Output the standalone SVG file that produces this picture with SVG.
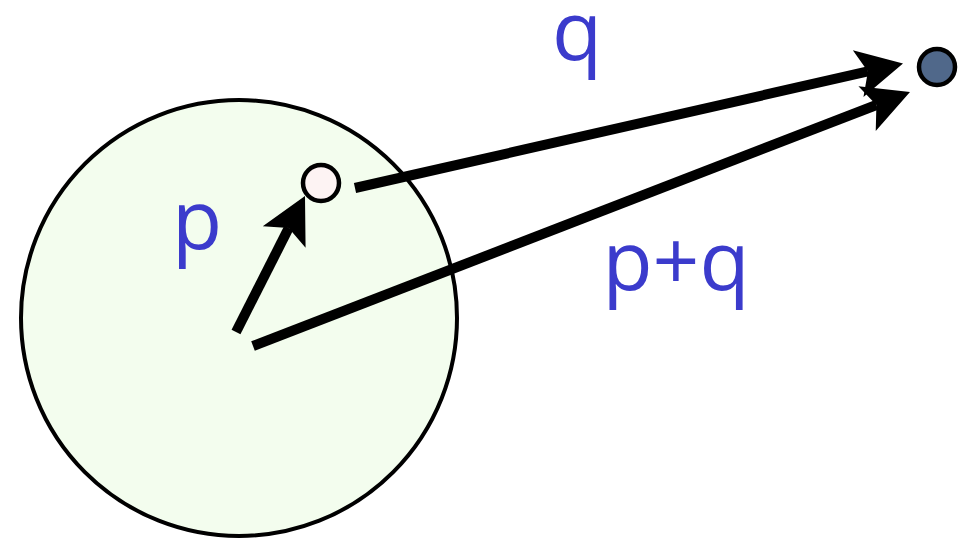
<svg xmlns="http://www.w3.org/2000/svg" width="958" height="544" viewBox="0 0 958 544">
<defs>
<style>
.lbl{font-family:"Open Sans","DejaVu Sans",sans-serif;font-size:82px;fill:#3b3bcc}
.arr{stroke:#000;stroke-width:10;fill:none;marker-end:url(#ah)}
.node{stroke:#000;stroke-width:4.5}
</style>
<marker id="ah" markerUnits="userSpaceOnUse" markerWidth="60" markerHeight="60" refX="0" refY="0" orient="auto" overflow="visible">
<path d="M36,0 L-10,-24 L0,0 L-10,24 Z" fill="#000"/>
</marker>
</defs>
<g id="region"><circle cx="239" cy="318" r="218" fill="#f3fdee" stroke="#000" stroke-width="4"/></g>
<g id="connectors">
<line class="arr" x1="236" y1="332" x2="288.7" y2="228.1"/>
<line class="arr" x1="355" y1="188" x2="867.9" y2="71.4"/>
<line class="arr" x1="253" y1="346" x2="876.4" y2="105"/>
</g>
<g id="point-p"><circle class="node" cx="321" cy="183" r="18" fill="#fdf3f3"/></g>
<g id="point-target"><circle class="node" cx="937" cy="67" r="18" fill="#50688a"/></g>
<g id="labels">
<text class="lbl" x="197" y="249" text-anchor="middle">p</text>
<text class="lbl" x="577" y="60" text-anchor="middle">q</text>
<text class="lbl" x="676" y="290" text-anchor="middle">p+q</text>
</g>
</svg>
